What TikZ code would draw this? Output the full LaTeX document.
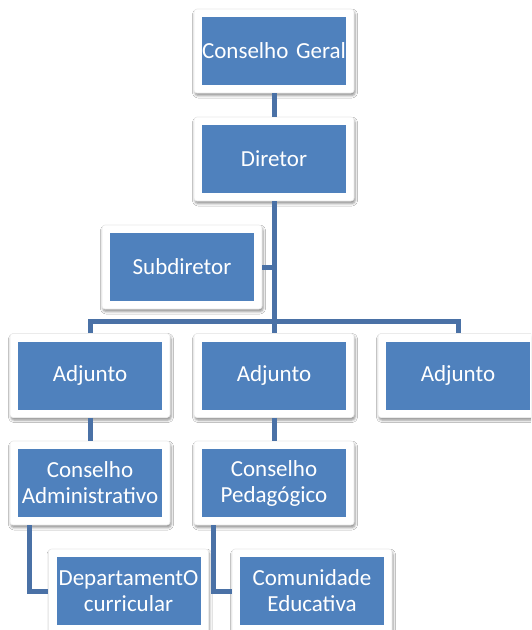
\documentclass[tikz,border=0pt]{standalone}
\usepackage{fontspec}
\setmainfont{Carlito}
\usetikzlibrary{shadows,shadows.blur}
\definecolor{boxblue}{HTML}{4F81BD}
\definecolor{linkblue}{HTML}{4A71A6}
\tikzset{
  framebox/.style={fill=white, draw=black!8, line width=0.6pt, rounded corners=3pt, minimum width=160pt, minimum height=84pt, inner sep=0pt,
    blur shadow={shadow xshift=1pt, shadow yshift=-2.5pt, shadow blur radius=2.5pt, shadow opacity=45}},
  bluebox/.style={fill=boxblue, minimum width=144pt, minimum height=68pt, text width=144pt, inner sep=0pt,
    text=white, font=\fontsize{23}{26}\selectfont, align=center},
  link/.style={draw=linkblue, line width=5pt}
}
\begin{document}
\begin{tikzpicture}[x=1pt, y=-1pt]
\useasboundingbox (0,0) rectangle (531,630);
\clip (0,0) rectangle (531,630);
\fill[white] (0,0) rectangle (531,630);
% frames
\node[framebox] (cgf) at (274,51) {};
\node[framebox] (dirf) at (274,159) {};
\node[framebox] (subf) at (182,267) {};
\node[framebox] (a1f) at (90,375.5) {};
\node[framebox] (a2f) at (274,375.5) {};
\node[framebox] (a3f) at (458,375.5) {};
\node[framebox] (caf) at (90,483) {};
\node[framebox] (cpf) at (274,483) {};
\node[framebox] (depf) at (128.5,591) {};
\node[framebox] (comf) at (312,591) {};
% blue boxes
\node[bluebox] (cg) at (cgf.center) {Conselho Geral};
\node[bluebox] (dir) at (dirf.center) {Diretor};
\node[bluebox] (sub) at (subf.center) {Subdiretor};
\node[bluebox] (a1) at (a1f.center) {Adjunto};
\node[bluebox] (a2) at (a2f.center) {Adjunto};
\node[bluebox] (a3) at (a3f.center) {Adjunto};
\node[bluebox] (ca) at (caf.center) {Conselho\\Administrativo};
\node[bluebox] (cp) at (cpf.center) {Conselho\\Pedagógico};
\node[bluebox] (dep) at (depf.center) {DepartamentO\\curricular};
\node[bluebox] (com) at (comf.center) {Comunidade\\Educativa};
% connectors
\draw[link] (cgf.south) -- (dirf.north);
\draw[link] (dirf.south) -- (a2f.north);
\draw[link] (subf.east) -- (subf.east -| dirf.south);
\draw[link] (a1f.north) -- ++(0,-12) -| (a3f.north);
\draw[link] (a1f.south) -- (caf.north);
\draw[link] (a2f.south) -- (cpf.north);
\draw[link] ([xshift=-61pt]caf.south) |- (depf.west);
\draw[link] ([xshift=-61pt]cpf.south) |- (comf.west);
\end{tikzpicture}
\end{document}
